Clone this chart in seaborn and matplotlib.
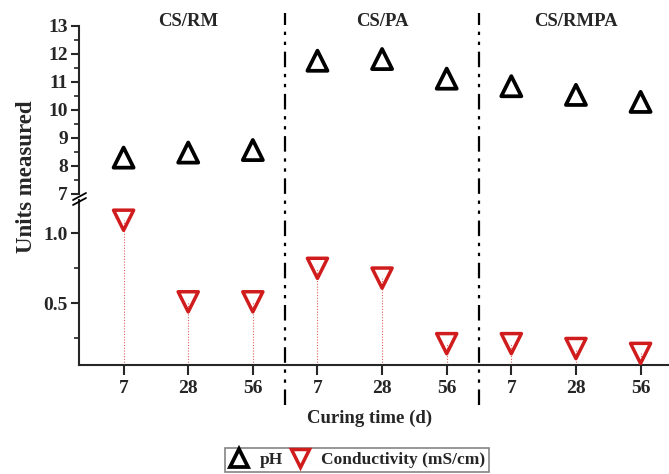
import numpy as np
import pandas as pd
import matplotlib
matplotlib.use("Agg")
import matplotlib.pyplot as plt
import seaborn as sns
from matplotlib.lines import Line2D
import matplotlib.transforms as mtransforms

groups = ["CS/RM", "CS/PA", "CS/RMPA"]
days = ["7", "28", "56"]
ph = [8.30, 8.48, 8.57, 11.76, 11.82, 11.12, 10.85, 10.54, 10.29]
conductivity = [1.095, 0.51, 0.51, 0.75, 0.68, 0.21, 0.21, 0.175, 0.14]

pos = np.arange(len(ph))
df = pd.DataFrame({"pos": pos, "pH": ph, "cond": conductivity,
                   "day": days * 3})

sns.set_style("ticks")
plt.rcParams["font.family"] = ["Liberation Serif", "DejaVu Serif"]
plt.rcParams["font.weight"] = "bold"

W, H = 669, 474
fig = plt.figure(figsize=(W / 100, H / 100), dpi=100)

def fx(px):
    return px / W

def fy(py):
    return 1 - py / H

left, right = 79, 669
ax_top = fig.add_axes([fx(left), fy(194), fx(right - left), fy(26) - fy(194)])
ax_bot = fig.add_axes([fx(left), fy(365), fx(right - left), fy(200) - fy(365)])

red = "#d01c1c"

sns.scatterplot(data=df, x="pos", y="pH", ax=ax_top, marker="^", s=210,
                facecolors="none", edgecolor="black", linewidth=2.7,
                legend=False, zorder=3)
sns.scatterplot(data=df, x="pos", y="cond", ax=ax_bot,
                marker="v", s=210, facecolors="none", edgecolor=red,
                linewidth=2.5, legend=False, zorder=3)

xlim = (-0.69, 8.44)
for ax in (ax_top, ax_bot):
    ax.set_xlim(*xlim)
    ax.set_xlabel("")
    ax.set_ylabel("")
    for s in ["top", "right"]:
        ax.spines[s].set_visible(False)
    ax.spines["left"].set_linewidth(1.5)
    ax.tick_params(axis="y", which="major", direction="out", length=6,
                   width=1.5, labelsize=14, pad=2)
    ax.tick_params(axis="y", which="minor", direction="out", length=3.5,
                   width=1.2)

ax_top.set_ylim(7, 13)
ax_top.set_yticks(np.arange(7, 14, 1))
ax_top.set_yticks(np.arange(7.5, 13, 0.5), minor=True)
ax_top.spines["bottom"].set_visible(False)
ax_top.tick_params(axis="x", which="both", bottom=False, labelbottom=False)

ybot = (0.057, 1.24)
ax_bot.set_ylim(*ybot)
ax_bot.set_yticks([0.5, 1.0])
ax_bot.set_yticklabels(["0.5", "1.0"])
ax_bot.set_yticks([0.25, 0.75], minor=True)
ax_bot.spines["bottom"].set_linewidth(1.5)
ax_bot.set_xticks(pos)
ax_bot.set_xticklabels(days * 3)
ax_bot.tick_params(axis="x", which="major", direction="out", length=7,
                   width=1.5, labelsize=14, pad=4)

for lab in ax_top.get_yticklabels() + ax_bot.get_yticklabels() + ax_bot.get_xticklabels():
    lab.set_fontweight("bold")

# drop lines
ax_bot.vlines(pos, ybot[0], conductivity, colors=red, linestyles=(0, (1, 1.5)),
              linewidth=0.8, alpha=0.7, zorder=2)

# group separators spanning the figure height
trans = mtransforms.blended_transform_factory(ax_bot.transData, fig.transFigure)
for xs in (2.5, 5.5):
    fig.add_artist(Line2D([xs, xs], [fy(405), fy(13)], transform=trans,
                          color="black", linewidth=1.6,
                          linestyle=(0, (7, 3, 1.5, 3, 1.5, 3))))

# group labels
for i, g in enumerate(groups):
    fig.text(3 * i + 1, fy(22), g, transform=trans, ha="center", va="center",
             fontsize=13.5, fontweight="bold")

# axis break marks
for dy in (0, 5):
    fig.add_artist(Line2D([fx(73), fx(86)], [fy(200 + dy), fy(193 + dy)],
                          color="black", linewidth=1.3))

fig.text(fx(27), fy(177), "Units measured", rotation=90, ha="center",
         va="center", fontsize=16.5, fontweight="bold")
fig.text(fx(370), fy(418), "Curing time (d)", ha="center", va="center",
         fontsize=13.5, fontweight="bold")

handles = [
    Line2D([], [], marker="^", linestyle="none", markersize=13,
           markerfacecolor="none", markeredgecolor="black", markeredgewidth=2.7),
    Line2D([], [], marker="v", linestyle="none", markersize=13,
           markerfacecolor="none", markeredgecolor=red, markeredgewidth=2.5),
]
leg = fig.legend(handles, ["pH", "Conductivity (mS/cm)"], loc="center",
                 bbox_to_anchor=(fx(357), fy(460)), ncol=2, frameon=True,
                 fancybox=False, handlelength=1.2,
                 handletextpad=0.6, columnspacing=0.4, borderpad=0.2,
                 prop={"weight": "bold", "size": 12.5})
leg.get_frame().set_edgecolor("#666666")
leg.get_frame().set_linewidth(1.2)

fig.savefig("out.png", dpi=100)
